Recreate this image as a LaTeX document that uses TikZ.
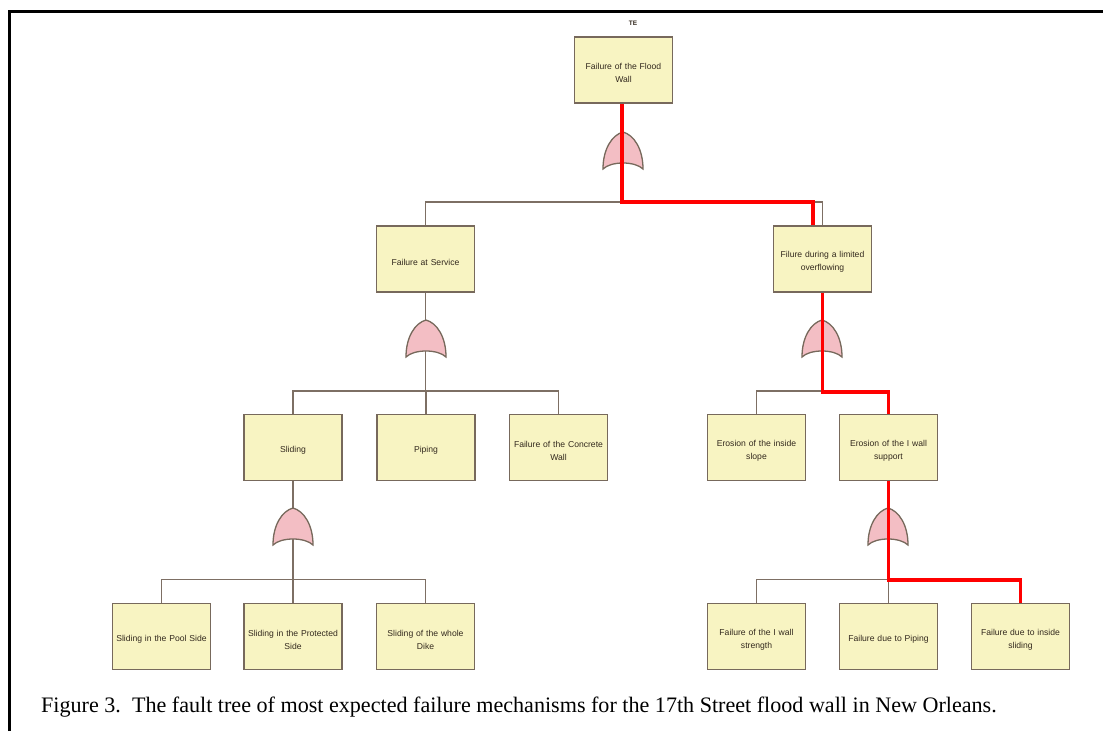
\documentclass[tikz,border=0pt]{standalone}
\usepackage{fontspec}
\setmainfont{Liberation Serif}
\newfontfamily\boxfont{Liberation Sans}
\begin{document}
\begin{tikzpicture}[x=1pt,y=-1pt,
  evtext/.style={inner sep=0pt, align=center, text width=96pt, yshift=-3pt,
    font=\boxfont\fontsize{8.6}{13}\selectfont, text=boxtext},
  event/.style={draw=boxedge, line width=1.7pt, fill=boxfill, minimum width=98pt,
    minimum height=66pt, inner sep=0pt, label={[evtext]center:#1}},
  conn/.style={draw=linegray, line width=1.6pt},
  path/.style={draw=red, line width=3.6pt, line join=miter},
  orgate/.style={draw=boxedge, line width=1.3pt, fill=gatefill}]
\definecolor{boxfill}{HTML}{F8F4C2}
\definecolor{boxedge}{HTML}{77695C}
\definecolor{boxtext}{HTML}{33291E}
\definecolor{linegray}{HTML}{7D6F64}
\definecolor{gatefill}{HTML}{F3BEC4}
\useasboundingbox (0,0) rectangle (1103,731);
\fill[white] (0,0) rectangle (1103,731);
% page frame
\draw[line width=3pt] (9,731) -- (9,11) -- (1103,11);

% ---------- events ----------
\node[event={Failure of the Flood\\Wall}] (te) at (623.5,70) {};
\node[font=\boxfont\bfseries\fontsize{6.5}{7}\selectfont, text=boxtext] (telabel) at (633,23) {TE};

\node[event={Failure at Service}] (fs) at (425.5,259) {};
\node[event={Filure during a limited\\overflowing}] (fl) at (822.5,259) {};

\node[event={Sliding}] (sl) at (293,447.5) {};
\node[event={Piping}] (pi) at (426,447.5) {};
\node[event={Failure of the Concrete\\Wall}] (cw) at (558.5,447.5) {};
\node[event={Erosion of the inside\\slope}] (es) at (756.5,447.5) {};
\node[event={Erosion of the I wall\\support}] (ei) at (888.5,447.5) {};

\node[event={Sliding in the Pool Side}] (sp) at (161.5,636.5) {};
\node[event={Sliding in the Protected\\Side}] (spr) at (293,636.5) {};
\node[event={Sliding of the whole\\Dike}] (sw) at (425.5,636.5) {};
\node[event={Failure of the I wall\\strength}] (fi) at (756.5,636.5) {};
\node[event={Failure due to Piping}] (fp) at (888.5,636.5) {};
\node[event={Failure due to inside\\sliding}] (fsl) at (1020.5,636.5) {};

% ---------- bar levels ----------
\coordinate (b1) at (623.5,202);
\coordinate (b2) at (425.5,391);
\coordinate (b3) at (822.5,391);
\coordinate (b4) at (293,579.5);
\coordinate (b5) at (888.5,579.5);

% ---------- connectors ----------
\draw[conn] (te.south) -- (b1);
\draw[conn] (fs.north) -- (fs.north |- b1) -- (fl.north |- b1) -- (fl.north);

\draw[conn] (fs.south) -- (b2);
\draw[conn] (sl.north) -- (sl.north |- b2) -- (cw.north |- b2) -- (cw.north);
\draw[conn] (pi.north) -- (pi.north |- b2);

\draw[conn] (fl.south) -- (b3);
\draw[conn] (es.north) -- (es.north |- b3) -- (ei.north |- b3) -- (ei.north);

\draw[conn] (sl.south) -- (b4);
\draw[conn] (sp.north) -- (sp.north |- b4) -- (sw.north |- b4) -- (sw.north);
\draw[conn] (spr.north) -- (spr.north |- b4);

\draw[conn] (ei.south) -- (b5);
\draw[conn] (fi.north) -- (fi.north |- b5) -- (fsl.north |- b5) -- (fsl.north);
\draw[conn] (fp.north) -- (fp.north |- b5);

% ---------- OR gates ----------
\foreach \gx/\gy/\gname in {623/132/g1, 426/320/g2, 822/320/g3, 293/508/g4, 888/508/g5}{
  \coordinate (\gname) at (\gx,\gy);
  \draw[orgate] (\gx-20,\gy+37)
    .. controls (\gx-20,\gy+17) and (\gx-11,\gy+3) .. (\gx,\gy)
    .. controls (\gx+11,\gy+3) and (\gx+20,\gy+17) .. (\gx+20,\gy+37)
    .. controls (\gx+12,\gy+29) and (\gx-12,\gy+29) .. cycle;
}

% ---------- highlighted path ----------
\draw[path] ([xshift=-1.5pt]te.south) -- ([xshift=-1.5pt]b1) -- ([xshift=-9.5pt]fl.north |- b1) -- ([xshift=-9.5pt]fl.north);
\draw[path] (fl.south) -- ([yshift=-1pt]b3) -- ([yshift=-1pt]ei.north |- b3) -- (ei.north);
\draw[path] (ei.south) -- ([yshift=-0.5pt]b5) -- ([yshift=-0.5pt]fsl.north |- b5) -- (fsl.north);

% ---------- caption ----------
\node[anchor=base west, inner sep=0pt, font=\fontsize{22.1}{25}\selectfont] (cap) at (41,712)
  {Figure 3.\ \ The fault tree of most expected failure mechanisms for the 17th Street flood wall in New Orleans.};
\end{tikzpicture}
\end{document}
